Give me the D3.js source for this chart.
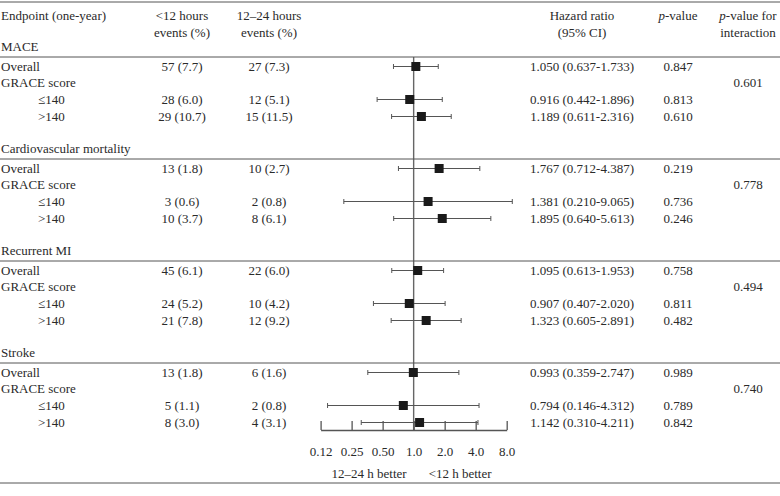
<!DOCTYPE html>
<html><head><meta charset="utf-8">
<script src="https://cdn.jsdelivr.net/npm/d3@7"></script>
<style>body{margin:0;background:#fff}svg{display:block}text{font-family:"Liberation Serif","DejaVu Serif",serif;font-size:13px;fill:#2a2a2a}</style>
</head><body><svg id="c" width="780" height="496"></svg>
<script>
const sections = ["MACE","Cardiovascular mortality","Recurrent MI","Stroke"];
const rowLabels = ["Overall","≤140",">140"];
const eventsEarly = [["57 (7.7)","28 (6.0)","29 (10.7)"],["13 (1.8)","3 (0.6)","10 (3.7)"],["45 (6.1)","24 (5.2)","21 (7.8)"],["13 (1.8)","5 (1.1)","8 (3.0)"]];
const eventsLate = [["27 (7.3)","12 (5.1)","15 (11.5)"],["10 (2.7)","2 (0.8)","8 (6.1)"],["22 (6.0)","10 (4.2)","12 (9.2)"],["6 (1.6)","2 (0.8)","4 (3.1)"]];
const hr = [[1.050,0.916,1.189],[1.767,1.381,1.895],[1.095,0.907,1.323],[0.993,0.794,1.142]];
const lo = [[0.637,0.442,0.611],[0.712,0.210,0.640],[0.613,0.407,0.605],[0.359,0.146,0.310]];
const hi = [[1.733,1.896,2.316],[4.387,9.065,5.613],[1.953,2.020,2.891],[2.747,4.312,4.211]];
const pValues = [["0.847","0.813","0.610"],["0.219","0.736","0.246"],["0.758","0.811","0.482"],["0.989","0.789","0.842"]];
const pInteraction = ["0.601","0.778","0.494","0.740"];
const tickValues = [0.125,0.25,0.5,1,2,4,8];
const tickLabels = ["0.12","0.25","0.50","1.0","2.0","4.0","8.0"];

const svg = d3.select("#c");
const line = "#555";
const x = d3.scaleLog().base(2).domain([0.125,8]).range([320.6,506.7]);
const fmt = v => v.toFixed(3);

// header
svg.append("line").attr("x1",0).attr("x2",780).attr("y1",2).attr("y2",2).attr("stroke",line).attr("stroke-width",1);
svg.append("line").attr("x1",0).attr("x2",780).attr("y1",483).attr("y2",483).attr("stroke",line).attr("stroke-width",1);
svg.append("text").attr("x",1).attr("y",20).text("Endpoint (one-year)");
[[182,"<12 hours","events (%)"],[269,"12–24 hours","events (%)"],[582,"Hazard ratio","(95% CI)"]].forEach(([cx,a,b])=>{
  svg.append("text").attr("x",cx).attr("y",20).attr("text-anchor","middle").text(a);
  svg.append("text").attr("x",cx).attr("y",37).attr("text-anchor","middle").text(b);
});
let t = svg.append("text").attr("x",678).attr("y",20).attr("text-anchor","middle");
t.append("tspan").attr("font-style","italic").text("p");t.append("tspan").text("-value");
t = svg.append("text").attr("x",748).attr("y",20).attr("text-anchor","middle");
t.append("tspan").attr("font-style","italic").text("p");t.append("tspan").text("-value for");
svg.append("text").attr("x",748).attr("y",37).attr("text-anchor","middle").text("interaction");

// reference line
svg.append("line").attr("x1",x(1)).attr("x2",x(1)).attr("y1",57).attr("y2",430).attr("stroke","#666").attr("stroke-width",1.4);

sections.forEach((s,k)=>{
  const base = 102*k;
  svg.append("text").attr("x",1).attr("y",base+51).text(s);
  svg.append("line").attr("x1",0).attr("x2",780).attr("y1",base+57).attr("y2",base+57).attr("stroke",line).attr("stroke-width",1);
  svg.append("text").attr("x",1).attr("y",base+86.5).text("GRACE score");
  svg.append("text").attr("x",748).attr("y",base+86.5).attr("text-anchor","middle").text(pInteraction[k]);
  const ys = [base+66.5, base+99.5, base+116.5];
  rowLabels.forEach((lab,i)=>{
    const y = ys[i];
    svg.append("text").attr("x",i===0?1:38).attr("y",y+4.5).text(lab);
    svg.append("text").attr("x",182).attr("y",y+4.5).attr("text-anchor","middle").text(eventsEarly[k][i]);
    svg.append("text").attr("x",269).attr("y",y+4.5).attr("text-anchor","middle").text(eventsLate[k][i]);
    svg.append("text").attr("x",582).attr("y",y+4.5).attr("text-anchor","middle").text(`${fmt(hr[k][i])} (${fmt(lo[k][i])}-${fmt(hi[k][i])})`);
    svg.append("text").attr("x",678).attr("y",y+4.5).attr("text-anchor","middle").text(pValues[k][i]);
    const g = svg.append("g");
    g.append("line").attr("x1",x(lo[k][i])).attr("x2",x(hi[k][i])).attr("y1",y).attr("y2",y).attr("stroke",line).attr("stroke-width",1);
    [lo[k][i],hi[k][i]].forEach(v=>g.append("line").attr("x1",x(v)).attr("x2",x(v)).attr("y1",y-2.5).attr("y2",y+2.5).attr("stroke",line).attr("stroke-width",1));
    g.append("rect").attr("x",x(hr[k][i])-4.5).attr("y",y-4.5).attr("width",9).attr("height",9).attr("fill","#1a1a1a");
  });
});

// axis
const ax = svg.append("g").attr("transform","translate(0,430)")
  .call(d3.axisBottom(x).tickValues(tickValues).tickFormat((d,i)=>tickLabels[i]).tickSizeInner(-9).tickSizeOuter(0).tickPadding(17));
ax.attr("font-family",null).attr("font-size",null);
ax.select(".domain").attr("stroke",line).attr("stroke-width",1.3);
ax.selectAll(".tick line").attr("stroke",line).attr("stroke-width",1.3);
ax.selectAll(".tick text").attr("fill",null).style("font-size","13px").style("fill","#2a2a2a");
svg.append("text").attr("x",x(1)-7).attr("y",478).attr("text-anchor","end").text("12–24 h better");
svg.append("text").attr("x",x(1)+15).attr("y",478).attr("text-anchor","start").text("<12 h better");
</script></body></html>
